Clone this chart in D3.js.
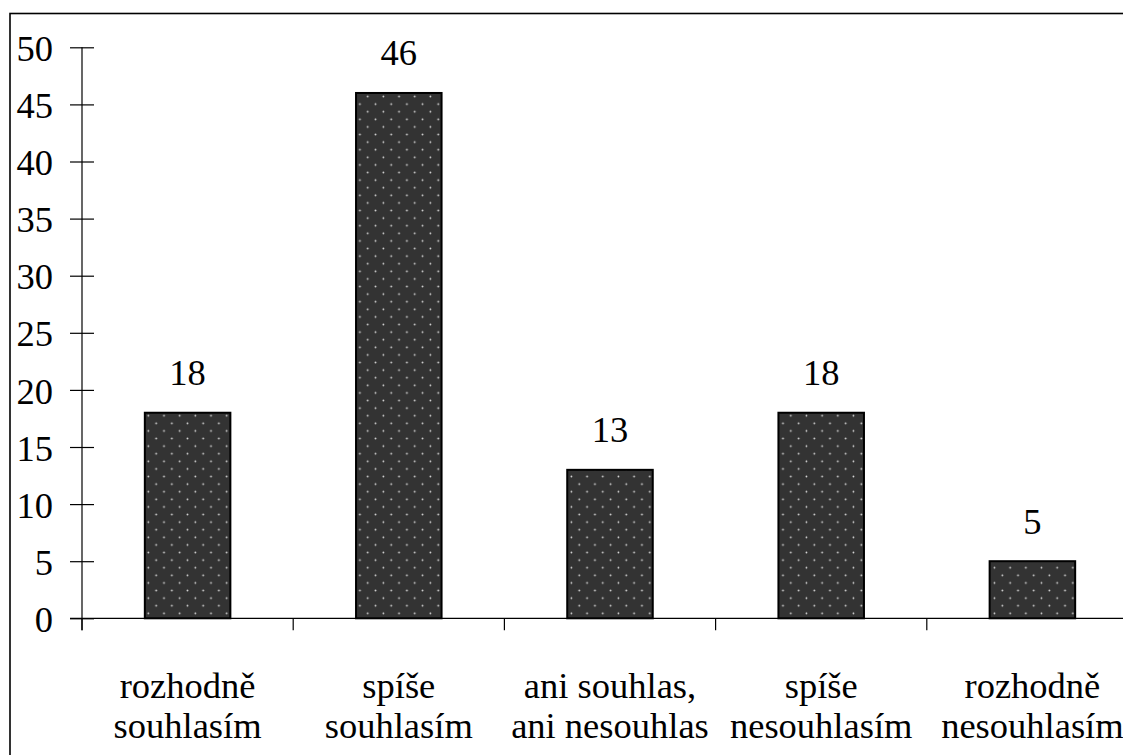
<!DOCTYPE html>
<html>
<head>
<meta charset="utf-8">
<script src="https://cdn.jsdelivr.net/npm/d3@7"></script>
</head>
<body style="margin:0">
<svg id="chart" width="1123" height="755" font-family="Liberation Serif" style="font-family:'Liberation Serif'"></svg>
<script>
// Survey answers (first line / second line of each category label)
const categoryLines = [
  ["rozhodně", "souhlasím"],
  ["spíše", "souhlasím"],
  ["ani souhlas,", "ani nesouhlas"],
  ["spíše", "nesouhlasím"],
  ["rozhodně", "nesouhlasím"]
];
const categories = categoryLines.map(l => l.join(" "));
const values = [18, 46, 13, 18, 5];
const yTicks = [0, 5, 10, 15, 20, 25, 30, 35, 40, 45, 50];

const svg = d3.select("#chart");
const styleText = sel => sel
  .attr("font-family", "Liberation Serif")
  .style("font-family", '"Liberation Serif"')
  .style("font-size", "36.5px")
  .style("fill", "#000");

// Frame around the chart area (runs off the right and bottom edges)
svg.append("rect")
  .attr("x", 10).attr("y", 13.5)
  .attr("width", 1200).attr("height", 800)
  .attr("fill", "none").attr("stroke", "#000").attr("stroke-width", 1.6);

// Dotted fill for the bars
const defs = svg.append("defs");
const pat = defs.append("pattern")
  .attr("id", "dots").attr("patternUnits", "userSpaceOnUse")
  .attr("x", 0).attr("y", 2)
  .attr("width", 15.67).attr("height", 15.2);
pat.append("rect").attr("width", 15.67).attr("height", 15.2).attr("fill", "#333");
pat.append("circle").attr("cx", 7.3).attr("cy", 3.3).attr("r", 0.9).attr("fill", "#d8d8d8");
pat.append("circle").attr("cx", 15.13).attr("cy", 10.9).attr("r", 0.9).attr("fill", "#d8d8d8");
pat.append("circle").attr("cx", -0.53).attr("cy", 10.9).attr("r", 0.9).attr("fill", "#d8d8d8");

const x0 = 82, step = 211.2;
const x = d3.scaleBand()
  .domain(categories)
  .range([x0, x0 + step * categories.length])
  .paddingInner(0.595)
  .paddingOuter(0.2975);

const y = d3.scaleLinear().domain([0, 50]).range([618.3, 47.3]);

// Y axis with ticks crossing the axis line
const yAxis = d3.axisLeft(y)
  .tickValues(yTicks)
  .tickSize(12)
  .tickSizeOuter(0)
  .tickPadding(17);
const gy = svg.append("g").attr("transform", `translate(${x0},0)`).call(yAxis);
gy.attr("font-family", "Liberation Serif").attr("font-size", null);
gy.select(".domain").attr("d", `M0,${y(50)}V${y(0) + 12}`).attr("stroke", "#000").attr("stroke-width", 1.2);
gy.selectAll(".tick line").attr("x1", 12).attr("stroke", "#000").attr("stroke-width", 1.2);
gy.selectAll(".tick text").call(styleText).attr("dy", "0.36em");

// X axis line and category boundary ticks
svg.append("line")
  .attr("x1", 70).attr("x2", 1123)
  .attr("y1", y(0)).attr("y2", y(0))
  .attr("stroke", "#000").attr("stroke-width", 1.2);
svg.append("g").selectAll("line")
  .data(d3.range(categories.length + 1))
  .join("line")
  .attr("x1", i => x0 + i * x.step())
  .attr("x2", i => x0 + i * x.step())
  .attr("y1", y(0)).attr("y2", y(0) + 12)
  .attr("stroke", "#000").attr("stroke-width", 1.2);

// Bars
svg.append("g").selectAll("rect")
  .data(values)
  .join("rect")
  .attr("x", (d, i) => x(categories[i]))
  .attr("y", d => y(d))
  .attr("width", x.bandwidth())
  .attr("height", d => y(0) - y(d))
  .attr("fill", "url(#dots)")
  .attr("stroke", "#000").attr("stroke-width", 2);

// Value labels
svg.append("g").selectAll("text")
  .data(values)
  .join("text")
  .attr("x", (d, i) => x(categories[i]) + x.bandwidth() / 2)
  .attr("y", d => y(d) - 27.5)
  .attr("text-anchor", "middle")
  .call(styleText)
  .text(d => d);

// Category labels (two lines)
const cl = svg.append("g").selectAll("text")
  .data(categoryLines)
  .join("text")
  .attr("text-anchor", "middle")
  .call(styleText);
cl.each(function(lines, i) {
  const cx = x(categories[i]) + x.bandwidth() / 2;
  d3.select(this).selectAll("tspan")
    .data(lines)
    .join("tspan")
    .attr("x", cx)
    .attr("y", (d, j) => 698 + j * 40)
    .text(d => d);
});
</script>
</body>
</html>
